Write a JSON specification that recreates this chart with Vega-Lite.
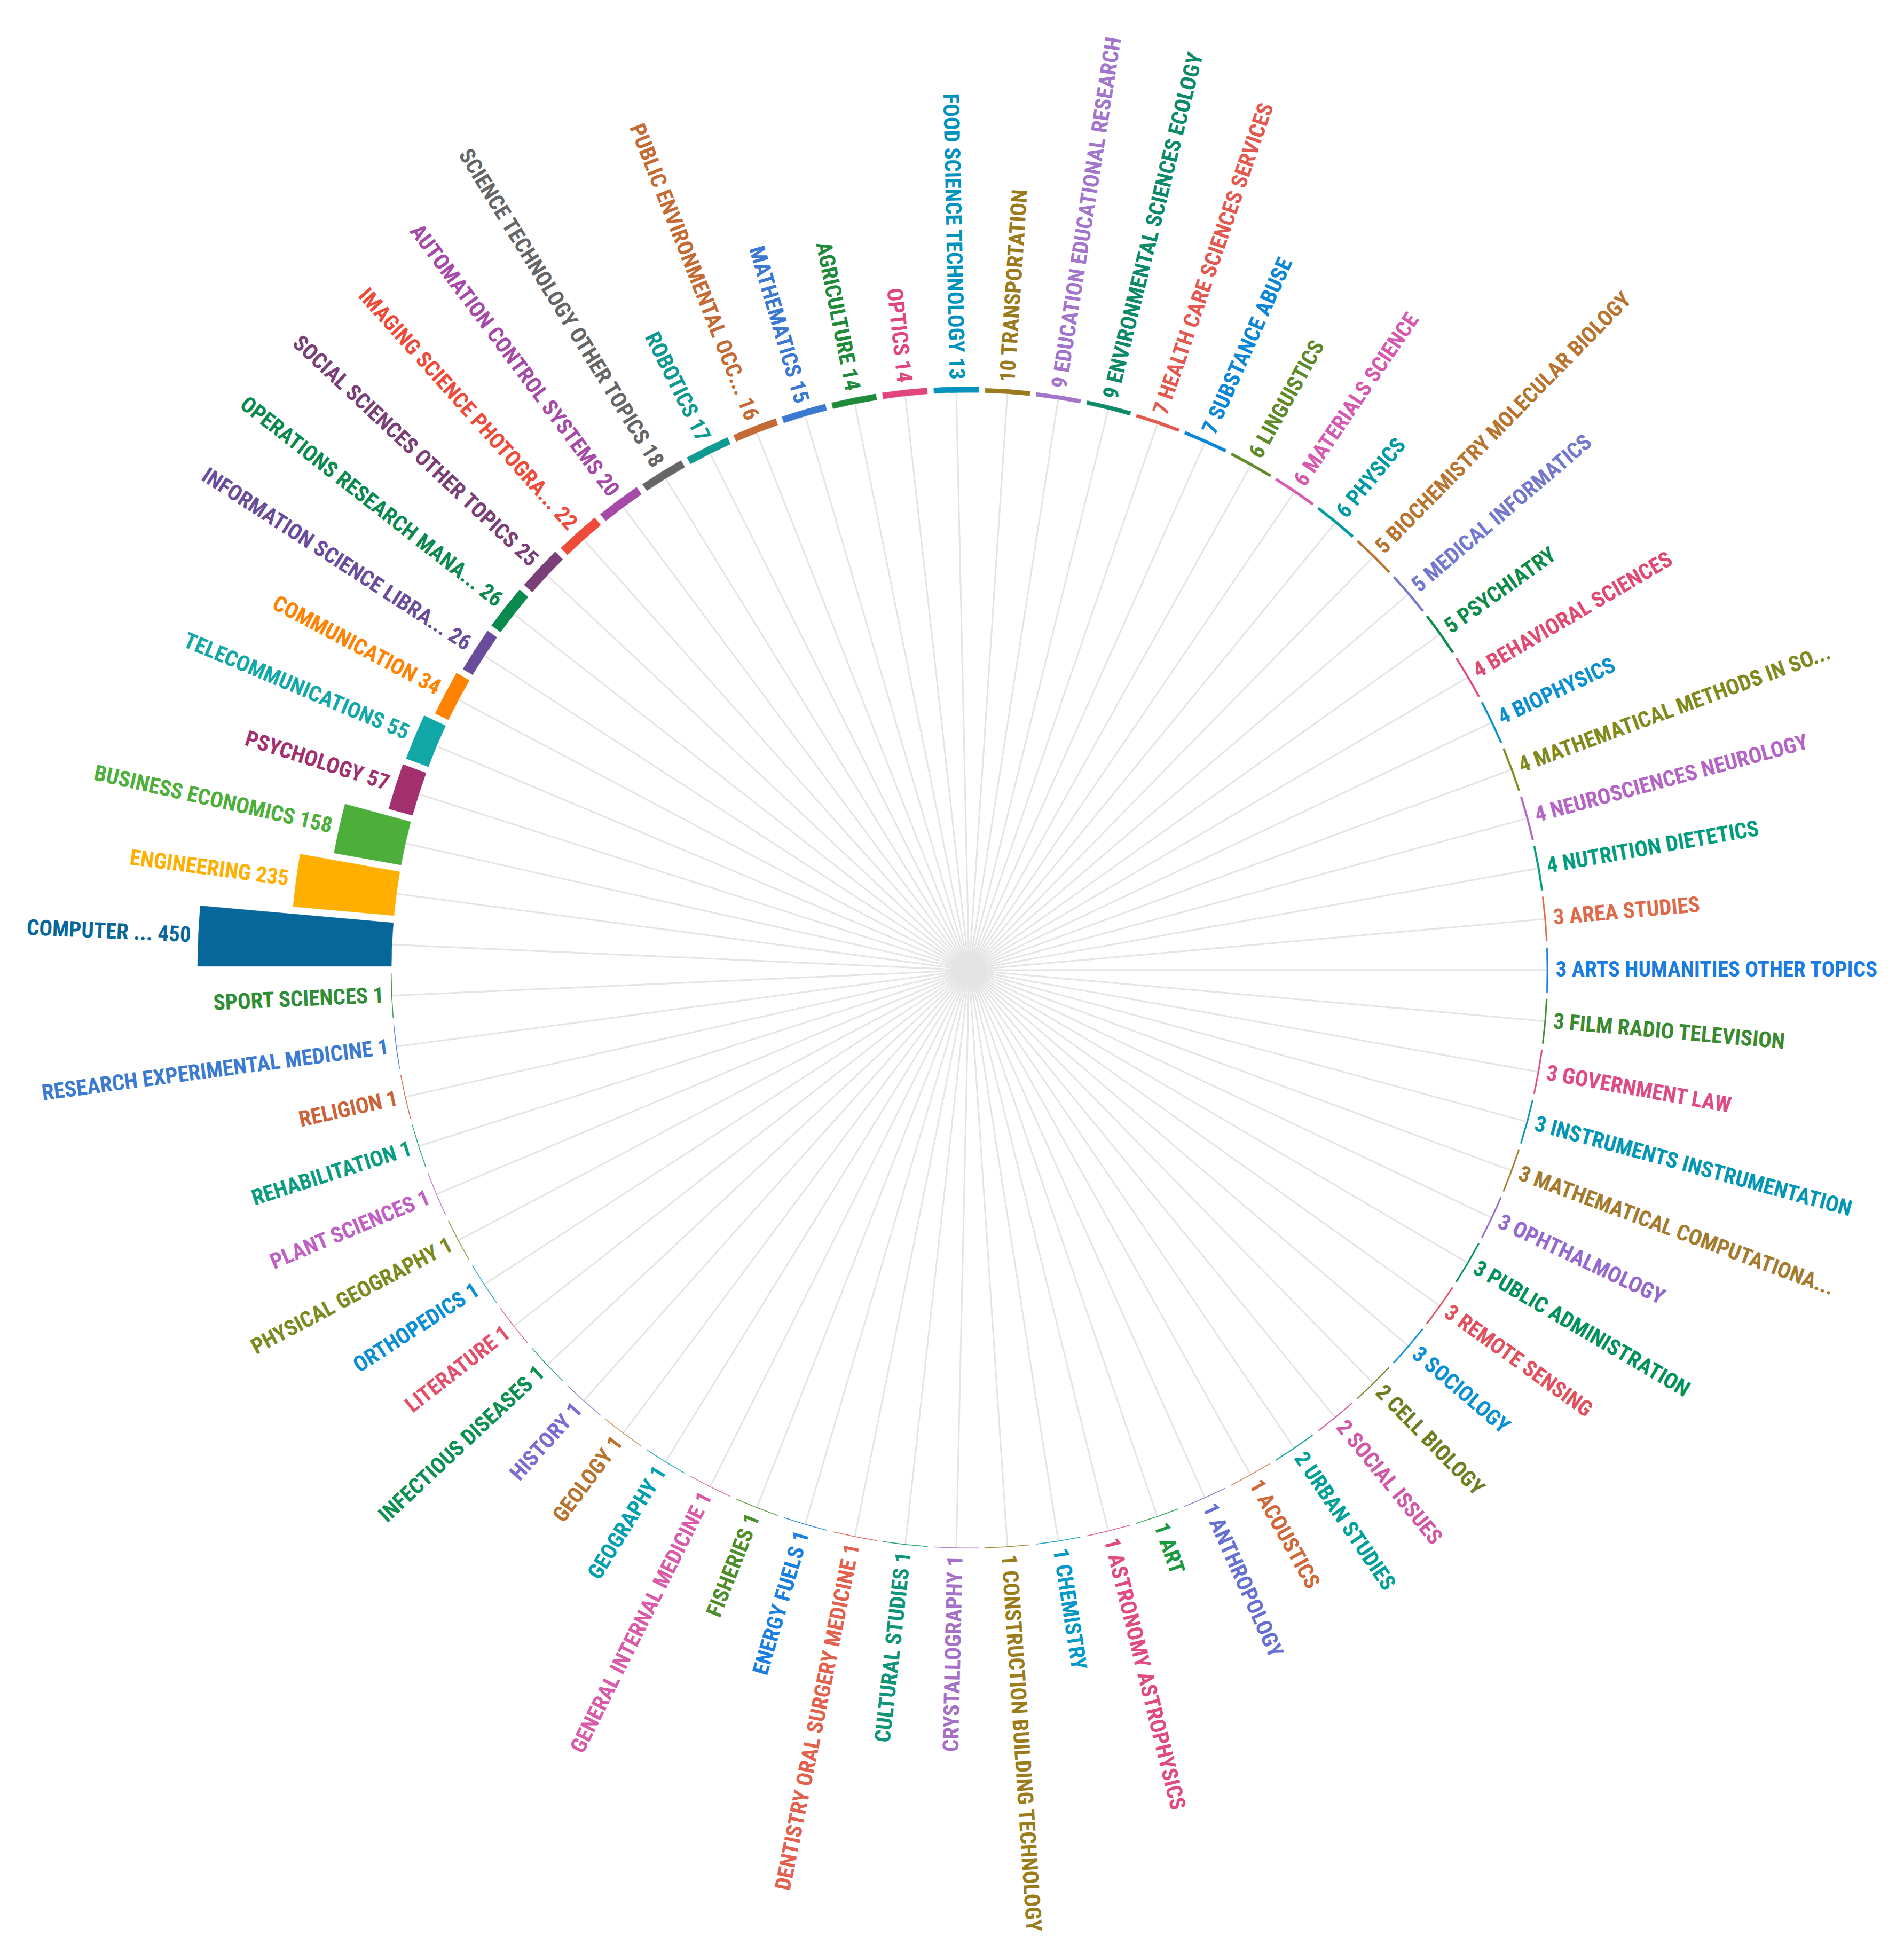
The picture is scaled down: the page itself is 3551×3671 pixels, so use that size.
{
  "$schema": "https://vega.github.io/schema/vega-lite/v6.json",
  "width": 3472,
  "height": 3634,
  "autosize": "none",
  "padding": {"left": 79, "top": 0, "right": 0, "bottom": 0},
  "background": "white",
  "config": {"view": {"stroke": null}},
  "data": {"values": [
    {"idx": 0, "value": 450, "label": "COMPUTER ... 450"},
    {"idx": 1, "value": 235, "label": "ENGINEERING 235"},
    {"idx": 2, "value": 158, "label": "BUSINESS ECONOMICS 158"},
    {"idx": 3, "value": 57, "label": "PSYCHOLOGY 57"},
    {"idx": 4, "value": 55, "label": "TELECOMMUNICATIONS 55"},
    {"idx": 5, "value": 34, "label": "COMMUNICATION 34"},
    {"idx": 6, "value": 26, "label": "INFORMATION SCIENCE LIBRA... 26"},
    {"idx": 7, "value": 26, "label": "OPERATIONS RESEARCH MANA... 26"},
    {"idx": 8, "value": 25, "label": "SOCIAL SCIENCES OTHER TOPICS 25"},
    {"idx": 9, "value": 22, "label": "IMAGING SCIENCE PHOTOGRA... 22"},
    {"idx": 10, "value": 20, "label": "AUTOMATION CONTROL SYSTEMS 20"},
    {"idx": 11, "value": 18, "label": "SCIENCE TECHNOLOGY OTHER TOPICS 18"},
    {"idx": 12, "value": 17, "label": "ROBOTICS 17"},
    {"idx": 13, "value": 16, "label": "PUBLIC ENVIRONMENTAL OCC... 16"},
    {"idx": 14, "value": 15, "label": "MATHEMATICS 15"},
    {"idx": 15, "value": 14, "label": "AGRICULTURE 14"},
    {"idx": 16, "value": 14, "label": "OPTICS 14"},
    {"idx": 17, "value": 13, "label": "FOOD SCIENCE TECHNOLOGY 13"},
    {"idx": 18, "value": 10, "label": "10 TRANSPORTATION"},
    {"idx": 19, "value": 9, "label": "9 EDUCATION EDUCATIONAL RESEARCH"},
    {"idx": 20, "value": 9, "label": "9 ENVIRONMENTAL SCIENCES ECOLOGY"},
    {"idx": 21, "value": 7, "label": "7 HEALTH CARE SCIENCES SERVICES"},
    {"idx": 22, "value": 7, "label": "7 SUBSTANCE ABUSE"},
    {"idx": 23, "value": 6, "label": "6 LINGUISTICS"},
    {"idx": 24, "value": 6, "label": "6 MATERIALS SCIENCE"},
    {"idx": 25, "value": 6, "label": "6 PHYSICS"},
    {"idx": 26, "value": 5, "label": "5 BIOCHEMISTRY MOLECULAR BIOLOGY"},
    {"idx": 27, "value": 5, "label": "5 MEDICAL INFORMATICS"},
    {"idx": 28, "value": 5, "label": "5 PSYCHIATRY"},
    {"idx": 29, "value": 4, "label": "4 BEHAVIORAL SCIENCES"},
    {"idx": 30, "value": 4, "label": "4 BIOPHYSICS"},
    {"idx": 31, "value": 4, "label": "4 MATHEMATICAL METHODS IN SO..."},
    {"idx": 32, "value": 4, "label": "4 NEUROSCIENCES NEUROLOGY"},
    {"idx": 33, "value": 4, "label": "4 NUTRITION DIETETICS"},
    {"idx": 34, "value": 3, "label": "3 AREA STUDIES"},
    {"idx": 35, "value": 3, "label": "3 ARTS HUMANITIES OTHER TOPICS"},
    {"idx": 36, "value": 3, "label": "3 FILM RADIO TELEVISION"},
    {"idx": 37, "value": 3, "label": "3 GOVERNMENT LAW"},
    {"idx": 38, "value": 3, "label": "3 INSTRUMENTS INSTRUMENTATION"},
    {"idx": 39, "value": 3, "label": "3 MATHEMATICAL COMPUTATIONA..."},
    {"idx": 40, "value": 3, "label": "3 OPHTHALMOLOGY"},
    {"idx": 41, "value": 3, "label": "3 PUBLIC ADMINISTRATION"},
    {"idx": 42, "value": 3, "label": "3 REMOTE SENSING"},
    {"idx": 43, "value": 3, "label": "3 SOCIOLOGY"},
    {"idx": 44, "value": 2, "label": "2 CELL BIOLOGY"},
    {"idx": 45, "value": 2, "label": "2 SOCIAL ISSUES"},
    {"idx": 46, "value": 2, "label": "2 URBAN STUDIES"},
    {"idx": 47, "value": 1, "label": "1 ACOUSTICS"},
    {"idx": 48, "value": 1, "label": "1 ANTHROPOLOGY"},
    {"idx": 49, "value": 1, "label": "1 ART"},
    {"idx": 50, "value": 1, "label": "1 ASTRONOMY ASTROPHYSICS"},
    {"idx": 51, "value": 1, "label": "1 CHEMISTRY"},
    {"idx": 52, "value": 1, "label": "1 CONSTRUCTION BUILDING TECHNOLOGY"},
    {"idx": 53, "value": 1, "label": "CRYSTALLOGRAPHY 1"},
    {"idx": 54, "value": 1, "label": "CULTURAL STUDIES 1"},
    {"idx": 55, "value": 1, "label": "DENTISTRY ORAL SURGERY MEDICINE 1"},
    {"idx": 56, "value": 1, "label": "ENERGY FUELS 1"},
    {"idx": 57, "value": 1, "label": "FISHERIES 1"},
    {"idx": 58, "value": 1, "label": "GENERAL INTERNAL MEDICINE 1"},
    {"idx": 59, "value": 1, "label": "GEOGRAPHY 1"},
    {"idx": 60, "value": 1, "label": "GEOLOGY 1"},
    {"idx": 61, "value": 1, "label": "HISTORY 1"},
    {"idx": 62, "value": 1, "label": "INFECTIOUS DISEASES 1"},
    {"idx": 63, "value": 1, "label": "LITERATURE 1"},
    {"idx": 64, "value": 1, "label": "ORTHOPEDICS 1"},
    {"idx": 65, "value": 1, "label": "PHYSICAL GEOGRAPHY 1"},
    {"idx": 66, "value": 1, "label": "PLANT SCIENCES 1"},
    {"idx": 67, "value": 1, "label": "REHABILITATION 1"},
    {"idx": 68, "value": 1, "label": "RELIGION 1"},
    {"idx": 69, "value": 1, "label": "RESEARCH EXPERIMENTAL MEDICINE 1"},
    {"idx": 70, "value": 1, "label": "SPORT SCIENCES 1"}
  ]},
  "resolve": {"scale": {"theta": "independent", "angle": "independent"}},
  "layer": [
    {
      "mark": {"type": "arc", "radius": 1082, "radius2": 0, "padAngle": 0.1, "filled": false, "fill": null, "stroke": "#e4e4e4", "strokeWidth": 3},
      "encoding": {
        "theta": {"aggregate": "count", "type": "quantitative", "stack": true, "scale": {"domain": [0, 71], "range": [4.71238898, 10.99557429], "nice": false, "zero": false}},
        "order": {"field": "idx", "type": "quantitative"}
      }
    },
    {
      "mark": {"type": "arc", "radius2": 1082, "thetaOffset": -0.0442478, "theta2Offset": 0.0442478, "padAngle": 0.008, "strokeWidth": 0.6},
      "encoding": {
        "theta": {"field": "idx", "type": "quantitative", "stack": null, "scale": {"type": "linear", "domain": [-0.5, 70.5], "range": [4.71238898, 10.99557429], "nice": false, "zero": false}},
        "theta2": {"field": "idx"},
        "radius": {"field": "value", "type": "quantitative", "stack": null, "scale": {"type": "linear", "domain": [0, 450], "range": [1082, 1445], "zero": false, "nice": false}},
        "color": {"field": "idx", "type": "ordinal", "legend": null, "scale": {"domain": [0,1,2,3,4,5,6,7,8,9,10,11,12,13,14,15,16,17,18,19,20,21,22,23,24,25,26,27,28,29,30,31,32,33,34,35,36,37,38,39,40,41,42,43,44,45,46,47,48,49,50,51,52,53,54,55,56,57,58,59,60,61,62,63,64,65,66,67,68,69,70], "range": ["#08679a","#ffaf00","#4caf3a","#a3306e","#12a8a8","#ff8200","#6a4c9c","#0a8a4e","#7b3f78","#ee4b3a","#a64aa8","#666666","#0e9a90","#c46a34","#3b78d0","#1e8a3a","#e0457e","#0093bd","#9a7a1c","#a274cc","#0a8a68","#e4594f","#0a86d8","#5e8a2a","#d659b0","#009aa2","#b8742e","#7478cc","#0c8c48","#e04a72","#0a8fcf","#808a1c","#b464c4","#009c7e","#de6a4a","#1a7ce0","#3a8a30","#de4a86","#0096b4","#a47a2c","#9468cc","#00925a","#e2505e","#0a90d4","#6e7e1e","#d058a8","#00a09a","#d0683a","#6670d0","#1a9a40","#e04a80","#0098c8","#9a7c1a","#a670c8","#0e9478","#e2604c","#1a80e0","#4e8e2a","#d85aa8","#00a0b0","#b8742e","#7a6cd0","#0a9050","#e2506c","#0a8ed4","#7a8a1e","#c060c4","#0a9c80","#cc6238","#3a7ad0","#2e8e38"]}},
        "stroke": {"field": "idx", "type": "ordinal", "legend": null, "scale": {"domain": [0,1,2,3,4,5,6,7,8,9,10,11,12,13,14,15,16,17,18,19,20,21,22,23,24,25,26,27,28,29,30,31,32,33,34,35,36,37,38,39,40,41,42,43,44,45,46,47,48,49,50,51,52,53,54,55,56,57,58,59,60,61,62,63,64,65,66,67,68,69,70], "range": ["#08679a","#ffaf00","#4caf3a","#a3306e","#12a8a8","#ff8200","#6a4c9c","#0a8a4e","#7b3f78","#ee4b3a","#a64aa8","#666666","#0e9a90","#c46a34","#3b78d0","#1e8a3a","#e0457e","#0093bd","#9a7a1c","#a274cc","#0a8a68","#e4594f","#0a86d8","#5e8a2a","#d659b0","#009aa2","#b8742e","#7478cc","#0c8c48","#e04a72","#0a8fcf","#808a1c","#b464c4","#009c7e","#de6a4a","#1a7ce0","#3a8a30","#de4a86","#0096b4","#a47a2c","#9468cc","#00925a","#e2505e","#0a90d4","#6e7e1e","#d058a8","#00a09a","#d0683a","#6670d0","#1a9a40","#e04a80","#0098c8","#9a7c1a","#a670c8","#0e9478","#e2604c","#1a80e0","#4e8e2a","#d85aa8","#00a0b0","#b8742e","#7a6cd0","#0a9050","#e2506c","#0a8ed4","#7a8a1e","#c060c4","#0a9c80","#cc6238","#3a7ad0","#2e8e38"]}}
      }
    },
    {
      "transform": [{"filter": "datum.idx <= 17 || datum.idx >= 53"}],
      "mark": {"type": "text", "align": "right", "baseline": "middle", "radiusOffset": 14, "font": "Liberation Sans Narrow, Roboto Condensed, Roboto, sans-serif", "fontSize": 41, "fontWeight": "bold"},
      "encoding": {
        "theta": {"field": "idx", "type": "quantitative", "scale": {"type": "linear", "domain": [-0.5, 70.5], "range": [4.71238898, 10.99557429], "nice": false, "zero": false}},
        "radius": {"field": "value", "type": "quantitative", "scale": {"type": "linear", "domain": [0, 450], "range": [1082, 1445], "zero": false, "nice": false}},
        "angle": {"field": "idx", "type": "quantitative", "scale": {"type": "linear", "domain": [-0.5, 70.5], "range": [0, 360], "nice": false, "zero": false}},
        "text": {"field": "label", "type": "nominal"},
        "color": {"field": "idx", "type": "ordinal", "legend": null}
      }
    },
    {
      "transform": [{"filter": "datum.idx >= 18 && datum.idx <= 52"}],
      "mark": {"type": "text", "align": "left", "baseline": "middle", "radiusOffset": 14, "font": "Liberation Sans Narrow, Roboto Condensed, Roboto, sans-serif", "fontSize": 41, "fontWeight": "bold"},
      "encoding": {
        "theta": {"field": "idx", "type": "quantitative", "scale": {"type": "linear", "domain": [-0.5, 70.5], "range": [4.71238898, 10.99557429], "nice": false, "zero": false}},
        "radius": {"field": "value", "type": "quantitative", "scale": {"type": "linear", "domain": [0, 450], "range": [1082, 1445], "zero": false, "nice": false}},
        "angle": {"field": "idx", "type": "quantitative", "scale": {"type": "linear", "domain": [-0.5, 70.5], "range": [180, 540], "nice": false, "zero": false}},
        "text": {"field": "label", "type": "nominal"},
        "color": {"field": "idx", "type": "ordinal", "legend": null}
      }
    }
  ]
}
